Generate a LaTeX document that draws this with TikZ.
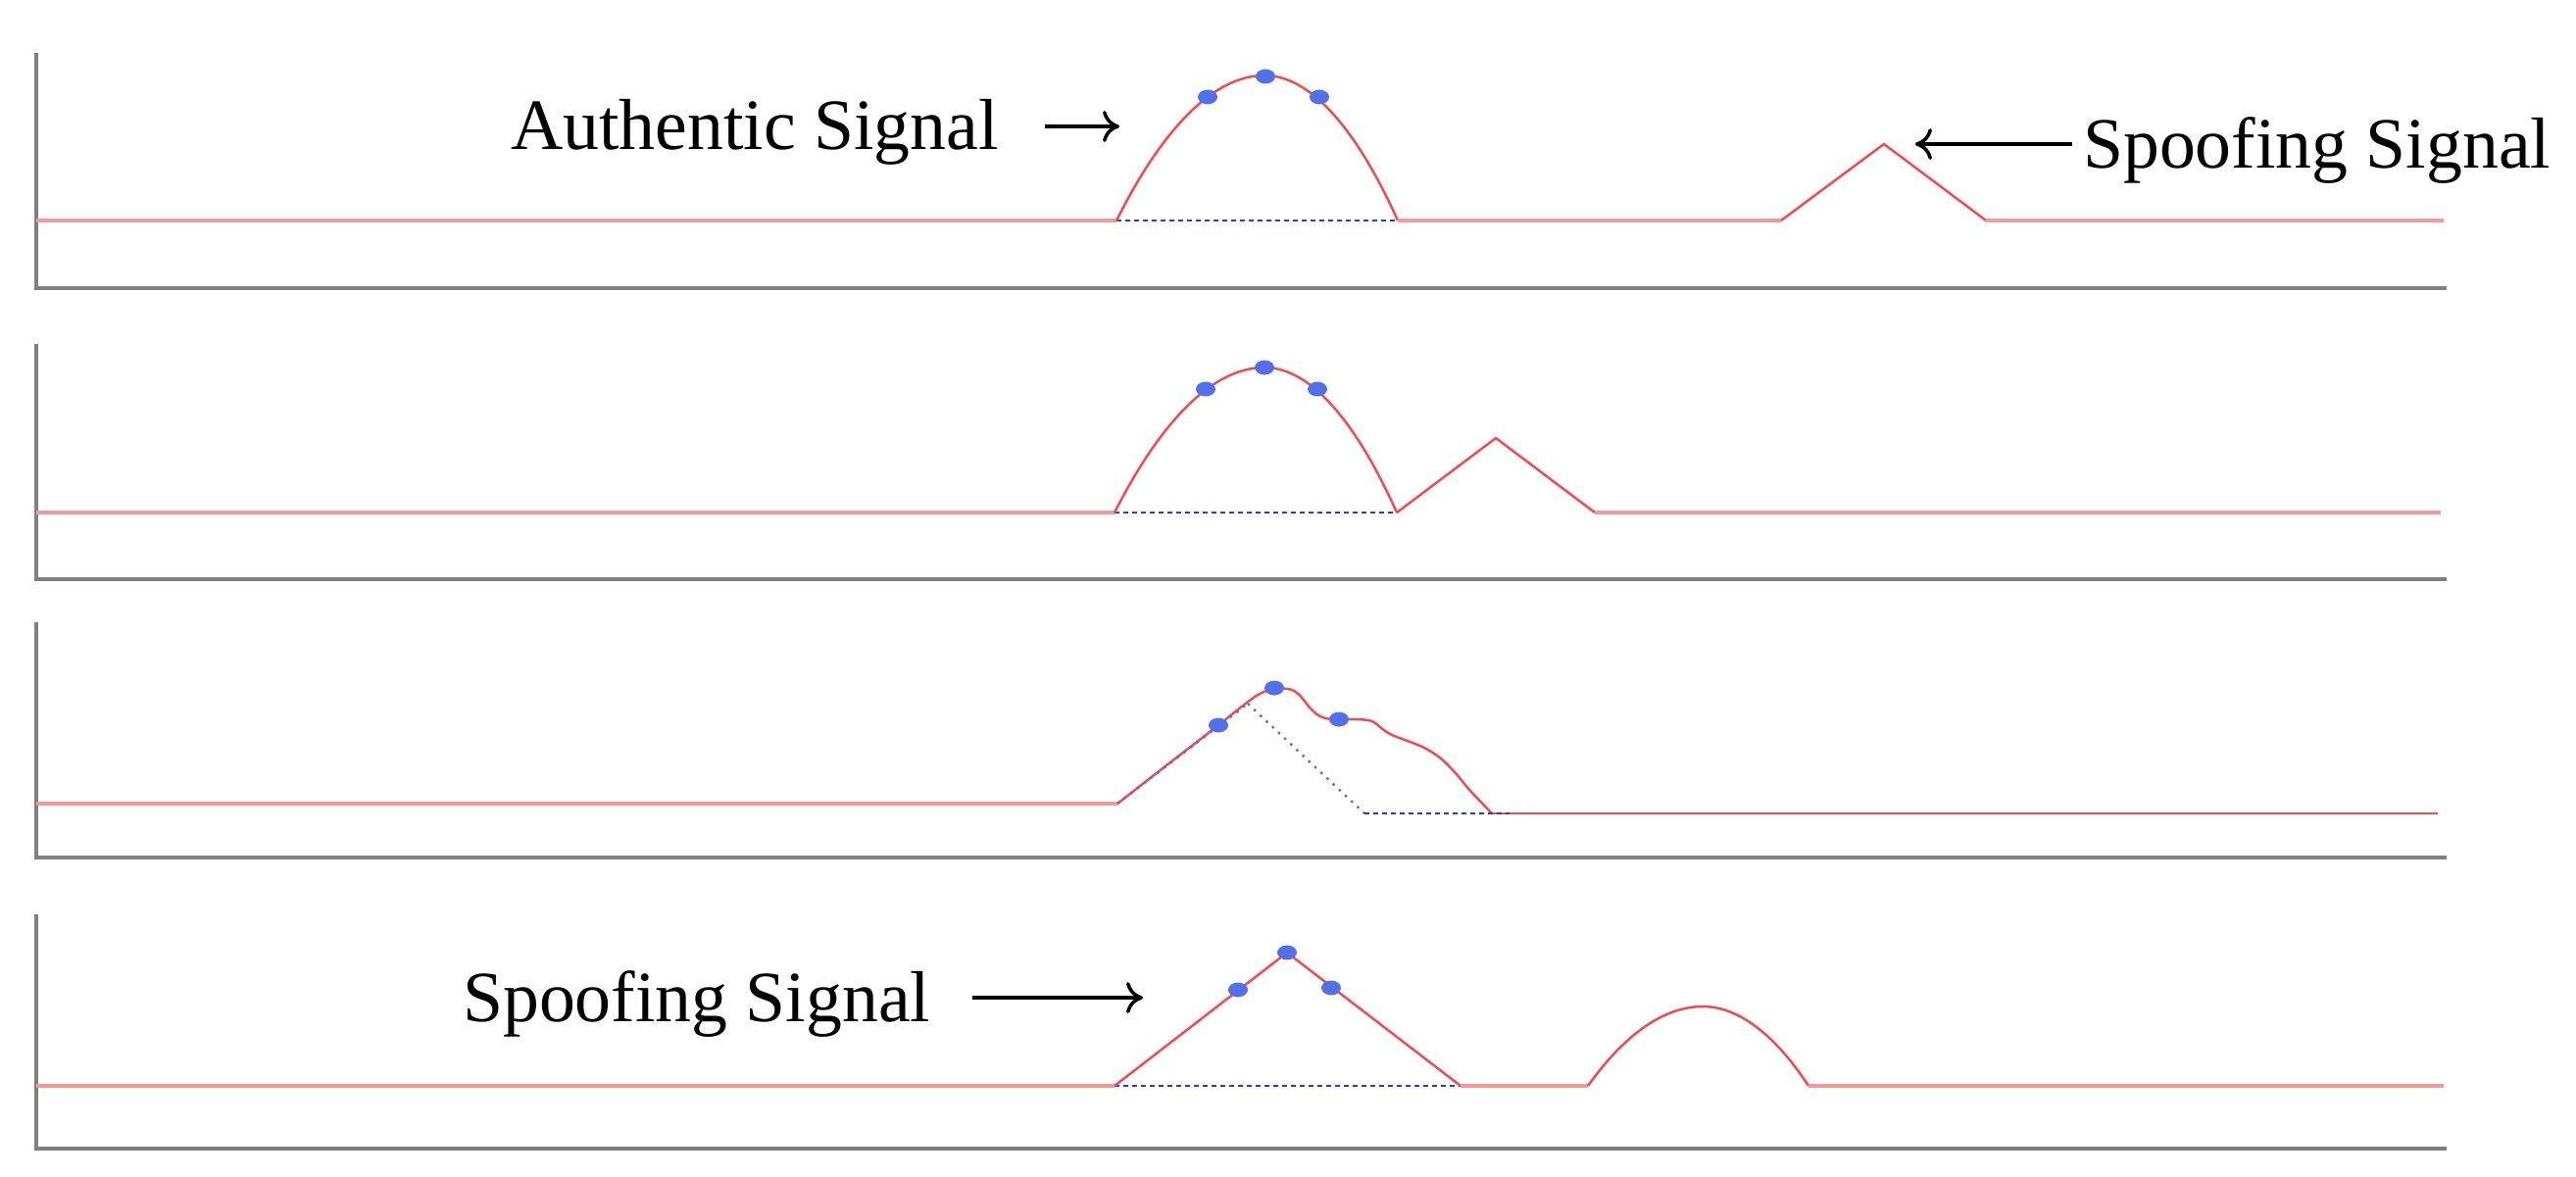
\documentclass[tikz,border=0pt]{standalone}
\usepackage{fontspec}
\setmainfont{Liberation Serif}
\usetikzlibrary{arrows.meta,shapes.geometric}
\definecolor{axisgray}{RGB}{128,128,128}
\definecolor{basered}{RGB}{246,152,152}
\definecolor{curvered}{RGB}{238,78,82}
\definecolor{dotblue}{RGB}{84,112,232}
\definecolor{dashblue}{RGB}{45,60,200}
\begin{document}
\begin{tikzpicture}[x=1pt,y=-1pt,
  axisln/.style={draw=axisgray,line width=4pt,line join=miter},
  baseln/.style={draw=basered,line width=4pt},
  sig/.style={draw=curvered,line width=2.5pt,line join=round},
  refdash/.style={draw=dashblue,line width=2.2pt,dash pattern=on 5pt off 4pt},
  refdot/.style={draw=dashblue!75,line width=2.4pt,dash pattern=on 2.5pt off 6pt},
  bdot/.style={ellipse,fill=dotblue,inner sep=0pt,minimum width=20pt,minimum height=15pt},
  lbl/.style={font=\fontsize{73.7}{88}\selectfont,inner sep=0pt,anchor=base west},
  arr/.style={line width=3.5pt,-{Computer Modern Rightarrow[length=17pt,width=32pt]}}]
\useasboundingbox (0,0) rectangle (2628,1201);

% ---------- Panel 1 ----------
\draw[axisln] (37,54) -- (37,294) -- (2496,294);
\draw[refdash] (1139,225) -- (1426,225);
\draw[baseln] (37,225) -- (1139,225);
\draw[sig] (1139,225) parabola bend (1290,77) (1426,225);
\draw[baseln] (1426,225) -- (1817,225);
\draw[sig] (1817,225) -- (1922,147) -- (2026,225);
\draw[baseln] (2026,225) -- (2493,225);
\node[bdot] (p1a) at (1232,99) {};
\node[bdot] (p1b) at (1291,78) {};
\node[bdot] (p1c) at (1346,99) {};
\node[lbl] (auth) at (521,153) {Authentic Signal};
\coordinate (authfrom) at (1066,129);
\coordinate (authto) at (1142,129);
\draw[arr] (authfrom) -- (authto);
\node[lbl] (spoof1) at (2125,172) {Spoofing Signal};
\coordinate (sp1from) at (2114,147);
\coordinate (sp1to) at (1954,147);
\draw[arr] (sp1from) -- (sp1to);

% ---------- Panel 2 ----------
\draw[axisln] (37,351) -- (37,591) -- (2496,591);
\draw[refdash] (1137,523) -- (1425,523);
\draw[baseln] (37,523) -- (1137,523);
\draw[sig] (1137,523) parabola bend (1290,375) (1425,523);
\draw[sig] (1425,523) -- (1526,447) -- (1627,523);
\draw[baseln] (1627,523) -- (2490,523);
\node[bdot] (p2a) at (1230,397) {};
\node[bdot] (p2b) at (1290,375) {};
\node[bdot] (p2c) at (1344,397) {};

% ---------- Panel 3 ----------
\draw[axisln] (37,635) -- (37,875) -- (2496,875);
\coordinate (r0) at (1140,820);
\coordinate (r1) at (1273,718);
\coordinate (r2) at (1392,830);
\coordinate (r3) at (1540,830);
\draw[refdot] (r1) -- (r2);
\draw[baseln] (37,820) -- (r0);
\draw[sig] plot[smooth,tension=0.55] coordinates {
  (1140,820) (1190,781) (1243,740) (1268,720) (1285,708) (1300,703)
  (1314,703) (1322,706) (1329,713) (1337,723) (1347,731) (1360,734)
  (1385,734) (1400,736) (1408,742) (1418,749) (1433,755) (1453,763)
  (1470,774) (1485,789) (1500,807) (1522,830)};
\draw[sig] (1522,830) -- (2487,830);
\draw[refdot] (r0) -- (r1);
\draw[refdash] (r2) -- (r3);
\node[bdot] (p3a) at (1243,740) {};
\node[bdot] (p3b) at (1300,702) {};
\node[bdot] (p3c) at (1366,734) {};

% ---------- Panel 4 ----------
\draw[axisln] (37,933) -- (37,1172) -- (2496,1172);
\draw[refdash] (1137,1108) -- (1490,1108);
\draw[baseln] (37,1108) -- (1137,1108);
\draw[sig] (1137,1108) -- (1313,972) -- (1490,1108);
\draw[baseln] (1490,1108) -- (1620,1108);
\draw[sig] (1620,1108) parabola bend (1737,1027) (1845,1108);
\draw[baseln] (1845,1108) -- (2493,1108);
\node[bdot] (p4a) at (1263,1010) {};
\node[bdot] (p4b) at (1313,972) {};
\node[bdot] (p4c) at (1358,1008) {};
\node[lbl] (spoof2) at (472,1042) {Spoofing Signal};
\coordinate (sp2from) at (992,1018);
\coordinate (sp2to) at (1166,1018);
\draw[arr] (sp2from) -- (sp2to);
\end{tikzpicture}
\end{document}
